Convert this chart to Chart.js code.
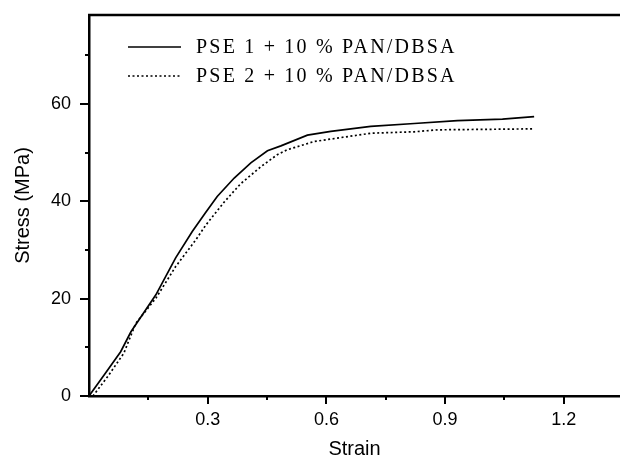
<!DOCTYPE html>
<html>
<head>
<meta charset="utf-8">
<script src="https://cdn.jsdelivr.net/npm/chart.js@4"></script>
<style>
  html, body { margin: 0; padding: 0; background: #fff; }
  #wrap { width: 620px; height: 459px; }
</style>
</head>
<body>
<div id="wrap"><canvas id="stress_chart"></canvas></div>
<script>
const series_labels = ['PSE 1 + 10 % PAN/DBSA', 'PSE 2 + 10 % PAN/DBSA'];

const strain_1 = [0, 0.04, 0.08, 0.106, 0.169, 0.219, 0.261, 0.293, 0.324, 0.367, 0.409, 0.451, 0.485, 0.552, 0.611, 0.712, 0.822, 0.931, 1.045, 1.125];
const stress_1 = [0, 4.5, 9.1, 13.2, 20.8, 28.4, 33.8, 37.5, 41.0, 44.8, 47.9, 50.4, 51.4, 53.6, 54.4, 55.4, 56.0, 56.6, 56.9, 57.4];

const strain_2 = [0.01, 0.05, 0.088, 0.118, 0.169, 0.219, 0.27, 0.295, 0.341, 0.383, 0.434, 0.476, 0.501, 0.569, 0.636, 0.712, 0.822, 0.881, 1.0, 1.121];
const stress_2 = [0, 4.3, 8.8, 14.9, 20.1, 26.6, 32.1, 35.1, 39.8, 43.6, 47.1, 49.6, 50.6, 52.3, 53.1, 54.0, 54.3, 54.7, 54.8, 54.9];

const x_ticks = [0.15, 0.3, 0.45, 0.6, 0.75, 0.9, 1.05, 1.2];
const x_labels = [0.3, 0.6, 0.9, 1.2];
const y_ticks = [10, 20, 30, 40, 50, 60, 70];
const y_labels = [0, 20, 40, 60];

function toPoints(xs, ys)
{
      const pts = [];
      for (let i = 0; i < xs.length; i++)
      {
            pts.push({ x: xs[i], y: ys[i] });
      }
      return pts;
}

// axis ticks, top frame line and legend drawn by hand
const framePlugin = {
      id: 'frame',
      afterDraw: function (chart)
      {
            const ctx = chart.ctx;
            const area = chart.chartArea;
            const xs = chart.scales.x;
            const ys = chart.scales.y;
            ctx.save();
            ctx.strokeStyle = '#000';
            ctx.lineWidth = 2.5;
            ctx.beginPath();
            ctx.moveTo(area.left - 1, area.top);
            ctx.lineTo(area.right, area.top);
            ctx.stroke();

            ctx.lineWidth = 2;
            x_ticks.forEach(function (v)
            {
                  const px = Math.round(xs.getPixelForValue(v));
                  const major = x_labels.some(function (l) { return Math.abs(l - v) < 1e-6; });
                  ctx.beginPath();
                  ctx.moveTo(px, area.bottom);
                  ctx.lineTo(px, area.bottom + (major ? 8 : 4));
                  ctx.stroke();
            });
            y_ticks.forEach(function (v)
            {
                  const py = Math.round(ys.getPixelForValue(v));
                  const major = y_labels.indexOf(v) >= 0;
                  ctx.beginPath();
                  ctx.moveTo(area.left, py);
                  ctx.lineTo(area.left - (major ? 9 : 4), py);
                  ctx.stroke();
            });
            ctx.beginPath();
            ctx.moveTo(area.left, area.bottom);
            ctx.lineTo(area.left - 9, area.bottom);
            ctx.stroke();

            // legend
            const rows = [47, 76];
            chart.data.datasets.forEach(function (ds, i)
            {
                  ctx.strokeStyle = ds.borderColor;
                  ctx.lineWidth = ds.borderWidth;
                  ctx.setLineDash(ds.borderDash || []);
                  ctx.beginPath();
                  ctx.moveTo(128, rows[i]);
                  ctx.lineTo(181, rows[i]);
                  ctx.stroke();
                  ctx.setLineDash([]);
                  ctx.fillStyle = '#000';
                  ctx.font = '20px "Liberation Serif", "Times New Roman", serif';
                  ctx.letterSpacing = '2.2px';
                  ctx.textBaseline = 'middle';
                  ctx.textAlign = 'left';
                  ctx.fillText(ds.label, 196, rows[i] + 1);
            });
            ctx.restore();
      }
};

const config = {
      type: 'scatter',
      data: {
            datasets: [{
                  label: series_labels[0],
                  data: toPoints(strain_1, stress_1),
                  showLine: true,
                  borderColor: '#000',
                  borderWidth: 1.7,
                  pointRadius: 0,
                  tension: 0
            }, {
                  label: series_labels[1],
                  data: toPoints(strain_2, stress_2),
                  showLine: true,
                  borderColor: '#000',
                  borderWidth: 1.7,
                  borderDash: [2, 2.5],
                  pointRadius: 0,
                  tension: 0
            }]
      },
      options: {
            responsive: true,
            maintainAspectRatio: false,
            animation: false,
            layout: { padding: { top: 15, right: 0, left: 0, bottom: 0 } },
            plugins: {
                  legend: { display: false },
                  tooltip: { enabled: false }
            },
            scales: {
                  x: {
                        type: 'linear',
                        min: 0,
                        max: 1.342,
                        afterFit: function (scale)
                        {
                              scale.height = 63;
                              scale.paddingLeft = 0;
                              scale.paddingRight = 0;
                        },
                        border: { display: true, color: '#000', width: 2.5 },
                        grid: { display: false, drawTicks: false },
                        ticks: {
                              stepSize: 0.15,
                              includeBounds: false,
                              padding: 13,
                              color: '#000',
                              maxRotation: 0,
                              autoSkip: false,
                              font: { family: '"Liberation Sans", Arial, sans-serif', size: 18 },
                              callback: function (v)
                              {
                                    const r = Math.round(v * 100);
                                    if (r === 0 || r % 30 !== 0) return '';
                                    return (r / 100).toFixed(1);
                              }
                        },
                        title: {
                              display: true,
                              text: 'Strain',
                              color: '#000',
                              font: { family: '"Liberation Sans", Arial, sans-serif', size: 20, lineHeight: 1 },
                              padding: { top: 0, bottom: 0 }
                        }
                  },
                  y: {
                        type: 'linear',
                        min: 0,
                        max: 78.3,
                        afterFit: function (scale)
                        {
                              scale.width = 89;
                              scale.paddingTop = 0;
                              scale.paddingBottom = 0;
                        },
                        border: { display: true, color: '#000', width: 2.5 },
                        grid: { display: false, drawTicks: false },
                        ticks: {
                              stepSize: 10,
                              includeBounds: false,
                              padding: 18,
                              color: '#000',
                              autoSkip: false,
                              font: { family: '"Liberation Sans", Arial, sans-serif', size: 18 },
                              callback: function (v)
                              {
                                    return y_labels.indexOf(v) >= 0 ? String(v) : '';
                              }
                        },
                        title: {
                              display: true,
                              text: 'Stress (MPa)',
                              color: '#000',
                              font: { family: '"Liberation Sans", Arial, sans-serif', size: 20, lineHeight: 1 },
                              padding: { top: 13, bottom: 0 }
                        }
                  }
            }
      },
      plugins: [framePlugin]
};

new Chart(document.getElementById('stress_chart'), config);
</script>
</body>
</html>
